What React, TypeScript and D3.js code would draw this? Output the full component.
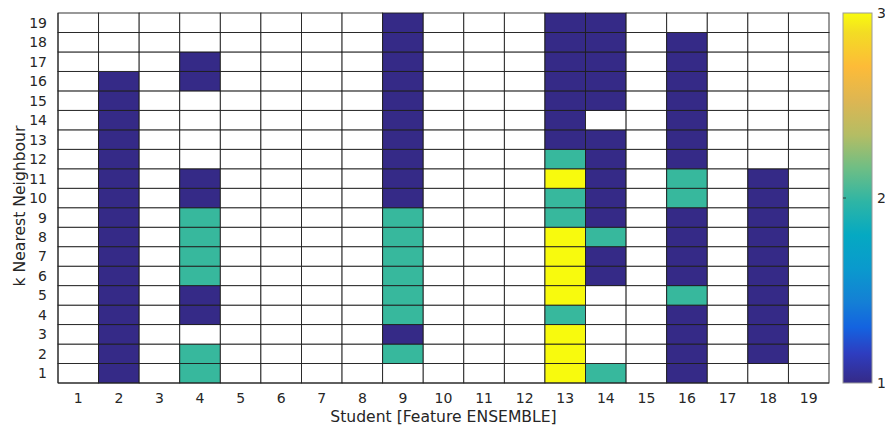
import React from "react";
import * as d3 from "d3";

const students = d3.range(1, 20).map(String);
const kValues = d3.range(1, 20).map(String);

// Each array: values for k = 1..19 (0 = empty cell)
const col1 = [0,0,0,0,0,0,0,0,0,0,0,0,0,0,0,0,0,0,0];
const col2 = [1,1,1,1,1,1,1,1,1,1,1,1,1,1,1,1,0,0,0];
const col3 = [0,0,0,0,0,0,0,0,0,0,0,0,0,0,0,0,0,0,0];
const col4 = [2,2,0,1,1,2,2,2,2,1,1,0,0,0,0,1,1,0,0];
const col5 = [0,0,0,0,0,0,0,0,0,0,0,0,0,0,0,0,0,0,0];
const col6 = [0,0,0,0,0,0,0,0,0,0,0,0,0,0,0,0,0,0,0];
const col7 = [0,0,0,0,0,0,0,0,0,0,0,0,0,0,0,0,0,0,0];
const col8 = [0,0,0,0,0,0,0,0,0,0,0,0,0,0,0,0,0,0,0];
const col9 = [0,2,1,2,2,2,2,2,2,1,1,1,1,1,1,1,1,1,1];
const col10 = [0,0,0,0,0,0,0,0,0,0,0,0,0,0,0,0,0,0,0];
const col11 = [0,0,0,0,0,0,0,0,0,0,0,0,0,0,0,0,0,0,0];
const col12 = [0,0,0,0,0,0,0,0,0,0,0,0,0,0,0,0,0,0,0];
const col13 = [3,3,3,2,3,3,3,3,2,2,3,2,1,1,1,1,1,1,1];
const col14 = [2,0,0,0,0,1,1,2,1,1,1,1,1,0,1,1,1,1,1];
const col15 = [0,0,0,0,0,0,0,0,0,0,0,0,0,0,0,0,0,0,0];
const col16 = [1,1,1,1,2,1,1,1,1,2,2,1,1,1,1,1,1,1,0];
const col17 = [0,0,0,0,0,0,0,0,0,0,0,0,0,0,0,0,0,0,0];
const col18 = [0,1,1,1,1,1,1,1,1,1,1,0,0,0,0,0,0,0,0];
const col19 = [0,0,0,0,0,0,0,0,0,0,0,0,0,0,0,0,0,0,0];
const columns = [col1,col2,col3,col4,col5,col6,col7,col8,col9,col10,col11,col12,col13,col14,col15,col16,col17,col18,col19];

const colorbarTicks = [1, 2, 3];

// parula-like stops sampled from reference
const parulaStops: [number, string][] = [
  [0.0, "#352a87"], [0.08, "#2e3dc0"], [0.15, "#1463e0"], [0.22, "#1480d5"],
  [0.31, "#0a9acd"], [0.40, "#05a9c2"], [0.49, "#2eb5a5"], [0.58, "#6ebe85"],
  [0.67, "#b4bd64"], [0.76, "#dcb653"], [0.855, "#fdbb38"], [0.946, "#f3dc24"],
  [1.0, "#f9fb0e"],
];
const cellColors: Record<number, string> = { 1: "#352a87", 2: "#37b89d", 3: "#f8fa0d" };

export default function App() {
  const W = 885, H = 430;
  const left = 58, right = 829, top = 13, bottom = 383;
  const x = d3.scaleBand().domain(students).range([left, right]);
  const y = d3.scaleBand().domain(kValues).range([bottom, top]);
  const cb = d3.scaleLinear().domain([1, 3]).range([bottom, top]);
  const cbX = 843, cbW = 29;
  const textColor = "#262626";
  const font = "DejaVu Sans, sans-serif";

  const cells: { s: string; k: string; v: number }[] = [];
  columns.forEach((col, i) => col.forEach((v, j) => cells.push({ s: students[i], k: kValues[j], v })));

  return (
    <svg width={W} height={H} style={{ position: "absolute", left: 0, top: 0, background: "#fff" }} fontFamily={font}>
      <defs>
        <linearGradient id="parula" x1="0" y1="1" x2="0" y2="0">
          {parulaStops.map(([o, c]) => <stop key={o} offset={o} stopColor={c} />)}
        </linearGradient>
      </defs>
      {cells.map((c) => (
        <rect key={c.s + "-" + c.k} x={x(c.s)} y={y(c.k)} width={x.bandwidth()} height={y.bandwidth()}
          fill={c.v === 0 ? "#ffffff" : cellColors[c.v]} stroke="#1e1e1e" strokeWidth={0.9} />
      ))}
      <line x1={left} x2={left} y1={top} y2={bottom} stroke={textColor} strokeWidth={1} />
      <line x1={left} x2={right} y1={bottom} y2={bottom} stroke={textColor} strokeWidth={1} />
      {students.map((s) => (
        <text key={"xt" + s} x={(x(s) as number) + x.bandwidth() / 2} y={403} textAnchor="middle" fontSize={14} fill={textColor}>{s}</text>
      ))}
      {kValues.map((k) => (
        <text key={"yt" + k} x={47} y={(y(k) as number) + y.bandwidth() / 2} dy="0.36em" textAnchor="end" fontSize={14} fill={textColor}>{k}</text>
      ))}
      <text x={443.5} y={422} textAnchor="middle" fontSize={15.6} fill={textColor}>Student [Feature ENSEMBLE]</text>
      <text transform={`translate(24.5,206) rotate(-90)`} textAnchor="middle" fontSize={15.6} fill={textColor}>k Nearest Neighbour</text>
      <rect x={cbX} y={top} width={cbW} height={bottom - top} fill="url(#parula)" stroke="#9a9a9a" strokeWidth={1} />
      {colorbarTicks.map((t) => (
        <g key={"cb" + t}>
          {t !== 1 && t !== 3 && <line x1={cbX} x2={cbX + 3} y1={cb(t)} y2={cb(t)} stroke={textColor} strokeWidth={0.8} />}
          <text x={cbX + cbW + 5} y={cb(t)} dy="0.36em" fontSize={14} fill={textColor}>{t}</text>
        </g>
      ))}
    </svg>
  );
}
